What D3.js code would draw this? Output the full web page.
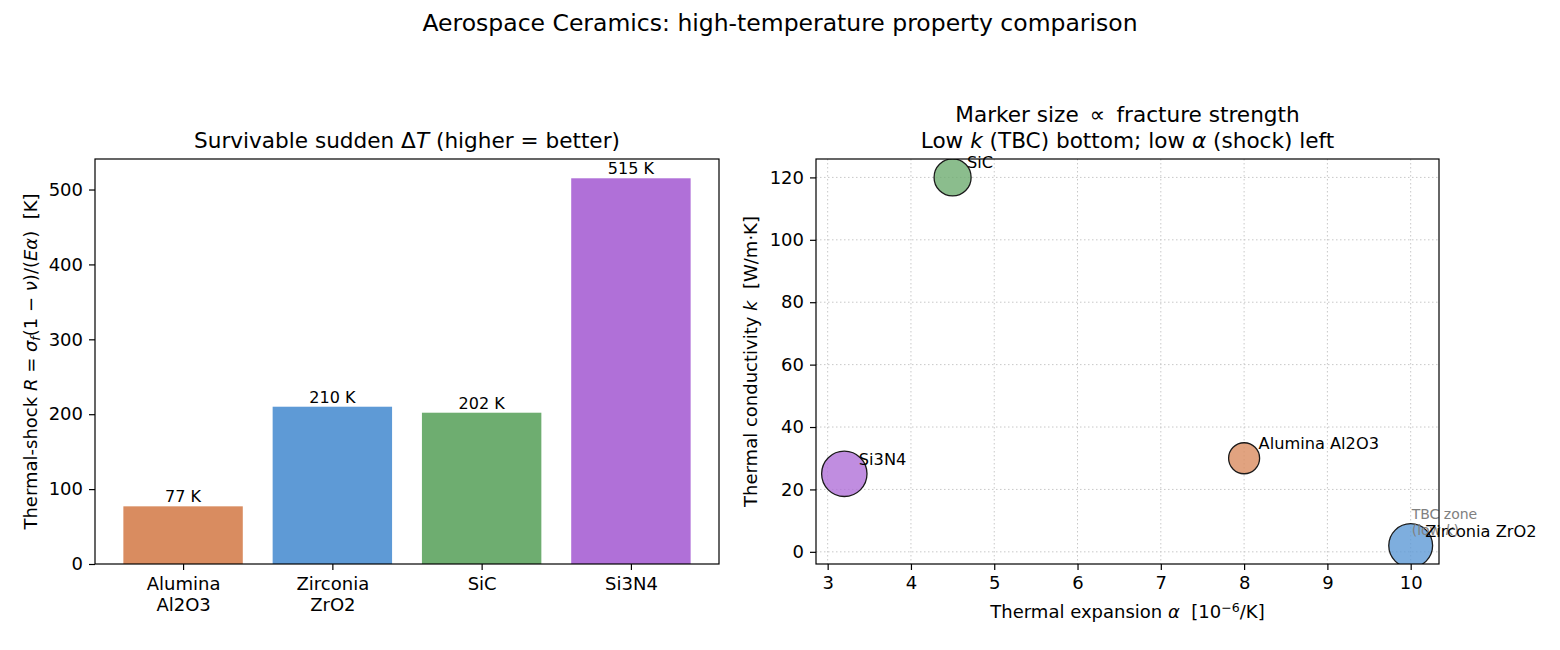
<!DOCTYPE html>
<html>
<head>
<meta charset="utf-8">
<script src="https://cdn.jsdelivr.net/npm/d3@7"></script>
<style>
  body { margin: 0; background: #fff; }
  svg { font-family: "DejaVu Sans", sans-serif; }
  text { white-space: pre; }
</style>
</head>
<body>
<div id="chart"></div>
<script>
// data
var materials = ["Alumina Al2O3", "Zirconia ZrO2", "SiC", "Si3N4"];
var barTickLines = [["Alumina", "Al2O3"], ["Zirconia", "ZrO2"], ["SiC"], ["Si3N4"]];
var shockR = [77, 210, 202, 515];          // K
var expansion = [8, 10, 4.5, 3.2];         // 1e-6 / K
var conductivity = [30, 2, 120, 25];       // W/m.K
var strength = [350, 700, 500, 750];       // MPa, drives marker area
var leftTicks = [0, 100, 200, 300, 400, 500];
var xTicks = [3, 4, 5, 6, 7, 8, 9, 10];
var yTicks = [0, 20, 40, 60, 80, 100, 120];

var colors = ["#d98c60", "#5e9ad6", "#6ead70", "#b070d8"];

var W = 1560, H = 650;
var left = { x0: 95, x1: 719, y0: 159, y1: 564 };
var right = { x0: 816, x1: 1439, y0: 159, y1: 564 };
var tickFont = 18;

var svg = d3.select("#chart")
    .append("svg")
    .attr("width", W)
    .attr("height", H);

// helper: write text made of plain / italic / sub / sup pieces
function rich(sel, parts) {
    parts.forEach(function (p) {
        var t = sel.append("tspan").text(p.t);
        if (p.i) t.attr("font-style", "italic");
        if (p.sub) t.attr("font-size", "0.7em").attr("dy", "0.25em");
        if (p.sup) t.attr("font-size", "0.7em").attr("dy", "-0.45em");
        if (p.back) t.attr("dy", p.back);
    });
    return sel;
}

svg.append("text")
    .attr("x", 780).attr("y", 31)
    .attr("text-anchor", "middle")
    .attr("font-size", 23.5)
    .text("Aerospace Ceramics: high-temperature property comparison");

// ---------- left: bar chart ----------
var xb = d3.scaleLinear()
    .domain([-0.4 - 0.19, materials.length - 1 + 0.4 + 0.19])
    .range([left.x0, left.x1]);
var yb = d3.scaleLinear()
    .domain([0, d3.max(shockR) * 1.05])
    .range([left.y1, left.y0]);
var barW = xb(0.8) - xb(0);

var gl = svg.append("g");

gl.selectAll("rect.bar")
    .data(shockR)
    .enter()
    .append("rect")
    .attr("class", "bar")
    .attr("x", (d, i) => xb(i) - barW / 2)
    .attr("y", d => yb(d))
    .attr("width", barW)
    .attr("height", d => yb(0) - yb(d))
    .attr("fill", (d, i) => colors[i]);

gl.selectAll("text.val")
    .data(shockR)
    .enter()
    .append("text")
    .attr("class", "val")
    .attr("x", (d, i) => xb(i))
    .attr("y", d => yb(d) - 4)
    .attr("text-anchor", "middle")
    .attr("font-size", 16)
    .text(d => d + " K");

var axB = gl.append("g")
    .attr("transform", `translate(0, ${left.y1})`)
    .call(d3.axisBottom(xb).tickValues(d3.range(materials.length)).tickSize(6).tickPadding(6).tickSizeOuter(0));
axB.selectAll(".tick text").each(function (d) {
    var t = d3.select(this).text("").attr("dy", null);
    barTickLines[d].forEach(function (line, k) {
        t.append("tspan").attr("x", 0).attr("dy", k === 0 ? "0.76em" : "1.17em").text(line);
    });
});

var axL = gl.append("g")
    .attr("transform", `translate(${left.x0}, 0)`)
    .call(d3.axisLeft(yb).tickValues(leftTicks).tickSize(6).tickPadding(6).tickSizeOuter(0));

[axB, axL].forEach(function (a) {
    a.select(".domain").remove();
    a.selectAll("text").attr("font-size", tickFont).attr("fill", "#000").attr("font-family", "DejaVu Sans");
    a.selectAll("line").attr("stroke", "#000").attr("stroke-width", 1.2);
});

gl.append("rect")
    .attr("x", left.x0).attr("y", left.y0)
    .attr("width", left.x1 - left.x0).attr("height", left.y1 - left.y0)
    .attr("fill", "none").attr("stroke", "#000").attr("stroke-width", 1.2);

rich(gl.append("text")
    .attr("x", (left.x0 + left.x1) / 2).attr("y", 147.5)
    .attr("text-anchor", "middle").attr("font-size", 21.6),
    [{ t: "Survivable sudden \u0394" }, { t: "T", i: 1 }, { t: " (higher = better)" }]);

rich(gl.append("text")
    .attr("transform", `translate(37, ${(left.y0 + left.y1) / 2}) rotate(-90)`)
    .attr("text-anchor", "middle").attr("font-size", tickFont),
    [{ t: "Thermal-shock " }, { t: "R", i: 1 }, { t: " = " }, { t: "\u03c3", i: 1 },
     { t: "f", i: 1, sub: 1 }, { t: "(1 \u2212 ", back: "-0.175em" }, { t: "\u03bd", i: 1 },
     { t: ")/(" }, { t: "E\u03b1", i: 1 }, { t: ")  [K]" }]);

// ---------- right: scatter ----------
var xPad = 0.05 * (d3.max(expansion) - d3.min(expansion));
var yPad = 0.05 * (d3.max(conductivity) - d3.min(conductivity));
var xs = d3.scaleLinear()
    .domain([d3.min(expansion) - xPad, d3.max(expansion) + xPad])
    .range([right.x0, right.x1]);
var ys = d3.scaleLinear()
    .domain([d3.min(conductivity) - yPad, d3.max(conductivity) + yPad])
    .range([right.y1, right.y0]);
var rs = d3.scaleSqrt().domain([0, 350]).range([0, 15.5]);

svg.append("defs").append("clipPath")
    .attr("id", "clipR")
    .append("rect")
    .attr("x", right.x0).attr("y", right.y0)
    .attr("width", right.x1 - right.x0).attr("height", right.y1 - right.y0);

var gr = svg.append("g");

// dotted grid
gr.selectAll("line.gx")
    .data(xTicks)
    .enter()
    .append("line")
    .attr("x1", d => xs(d)).attr("x2", d => xs(d))
    .attr("y1", right.y0).attr("y2", right.y1)
    .attr("stroke", "#c8c8c8").attr("stroke-width", 1).attr("stroke-dasharray", "1.5,2.5");
gr.selectAll("line.gy")
    .data(yTicks)
    .enter()
    .append("line")
    .attr("x1", right.x0).attr("x2", right.x1)
    .attr("y1", d => ys(d)).attr("y2", d => ys(d))
    .attr("stroke", "#c8c8c8").attr("stroke-width", 1).attr("stroke-dasharray", "1.5,2.5");

gr.append("g")
    .attr("clip-path", "url(#clipR)")
    .selectAll("circle")
    .data(materials)
    .enter()
    .append("circle")
    .attr("cx", (d, i) => xs(expansion[i]))
    .attr("cy", (d, i) => ys(conductivity[i]))
    .attr("r", (d, i) => rs(strength[i]))
    .attr("fill", (d, i) => colors[i])
    .attr("fill-opacity", 0.8)
    .attr("stroke", "#1a1a1a")
    .attr("stroke-width", 1.3);

// TBC note (overlaps the Zirconia label, as in the source)
var tbc = gr.append("text")
    .attr("x", xs(10) + 1).attr("y", ys(5) - 17.5)
    .attr("font-size", 14).attr("fill", "#808080");
tbc.append("tspan").attr("x", xs(10) + 1).text("TBC zone");
rich(tbc.append("tspan").attr("x", xs(10) + 1).attr("dy", "1.15em"),
    [{ t: "(low " }, { t: "k", i: 1 }, { t: ")" }]);

gr.selectAll("text.lab")
    .data(materials)
    .enter()
    .append("text")
    .attr("class", "lab")
    .attr("x", (d, i) => xs(expansion[i]) + 14.5)
    .attr("y", (d, i) => ys(conductivity[i]) - 9)
    .attr("font-size", 16.2)
    .text(d => d);

var axX = gr.append("g")
    .attr("transform", `translate(0, ${right.y1})`)
    .call(d3.axisBottom(xs).tickValues(xTicks).tickSize(6).tickPadding(6).tickSizeOuter(0));
var axY = gr.append("g")
    .attr("transform", `translate(${right.x0}, 0)`)
    .call(d3.axisLeft(ys).tickValues(yTicks).tickSize(6).tickPadding(6).tickSizeOuter(0));

[axX, axY].forEach(function (a) {
    a.select(".domain").remove();
    a.selectAll("text").attr("font-size", tickFont).attr("fill", "#000").attr("font-family", "DejaVu Sans");
    a.selectAll("line").attr("stroke", "#000").attr("stroke-width", 1.2);
});

gr.append("rect")
    .attr("x", right.x0).attr("y", right.y0)
    .attr("width", right.x1 - right.x0).attr("height", right.y1 - right.y0)
    .attr("fill", "none").attr("stroke", "#000").attr("stroke-width", 1.2);

var cx = (right.x0 + right.x1) / 2;
gr.append("text")
    .attr("x", cx).attr("y", 122)
    .attr("text-anchor", "middle").attr("font-size", 21.6)
    .text("Marker size \u2009\u221d\u2009 fracture strength");
rich(gr.append("text")
    .attr("x", cx).attr("y", 147.5)
    .attr("text-anchor", "middle").attr("font-size", 21.6),
    [{ t: "Low " }, { t: "k", i: 1 }, { t: " (TBC) bottom; low " }, { t: "\u03b1", i: 1 }, { t: " (shock) left" }]);

rich(gr.append("text")
    .attr("x", cx).attr("y", 618)
    .attr("text-anchor", "middle").attr("font-size", tickFont),
    [{ t: "Thermal expansion " }, { t: "\u03b1", i: 1 }, { t: "  [10" }, { t: "\u22126", sup: 1 },
     { t: "/K]", back: "0.315em" }]);

rich(gr.append("text")
    .attr("transform", `translate(757, ${(right.y0 + right.y1) / 2}) rotate(-90)`)
    .attr("text-anchor", "middle").attr("font-size", tickFont),
    [{ t: "Thermal conductivity " }, { t: "k", i: 1 }, { t: "  [W/m\u00b7K]" }]);
</script>
</body>
</html>
